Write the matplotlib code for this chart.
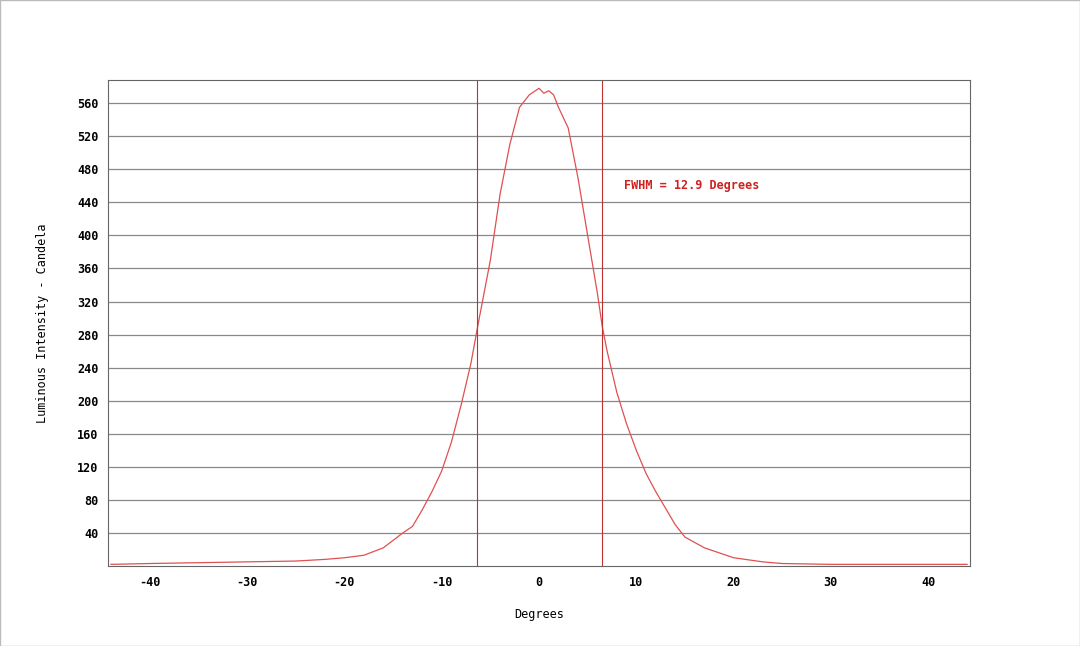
import numpy as np
import matplotlib.pyplot as plt

degrees = [-44, -40, -35, -30, -25, -22, -20, -18, -16, -14, -13, -12, -11, -10, -9, -8, -7, -6.3, -5, -4, -3,
           -2, -1, 0, 0.5, 1, 1.5, 2, 3, 4, 5, 6, 6.5, 7, 8, 9, 10, 11, 12, 13, 14, 15, 17, 20, 23, 25, 30, 40, 44]
intensity = [2, 3, 4, 5, 6, 8, 10, 13, 22, 40, 48, 68, 90, 115, 150, 195, 245, 290, 370, 450, 510,
             555, 570, 578, 572, 575, 570, 555, 530, 470, 400, 330, 290, 260, 210, 172, 140, 112, 90, 70, 50, 35, 22, 10, 5, 3, 2, 2, 2]
fwhm_left = -6.4
fwhm_right = 6.5
yticks = list(range(40, 561, 40))
xticks = list(range(-40, 41, 10))

plt.rcParams["font.family"] = "DejaVu Sans Mono"
plt.rcParams["font.weight"] = "bold"
plt.rcParams["axes.unicode_minus"] = False
fig = plt.figure(figsize=(10.8, 6.46), dpi=100)
ax = fig.add_axes([108 / 1080, 80 / 646, 862 / 1080, 486 / 646])

ax.plot(degrees, intensity, color="#e05050", lw=0.9)
ax.axvline(fwhm_left, color="#c03030", lw=0.8)
ax.axvline(fwhm_right, color="#c03030", lw=0.8)
ax.text(8.7, 460, "FWHM = 12.9 Degrees", color="#d02020", fontsize=8.5, va="center")

ax.set_xlim(-44.3, 44.3)
ax.set_ylim(0, 588)
ax.set_xticks(xticks)
ax.set_yticks(yticks)
ax.tick_params(labelsize=8.5, length=0, pad=7)
ax.grid(axis="y", color="#888888", lw=0.9)
for s in ax.spines.values():
    s.set_color("#666666")
ax.set_xlabel("Degrees", fontsize=8.5, labelpad=14)
ax.set_ylabel("Luminous Intensity - Candela", fontsize=8.5, labelpad=20)

fig.patches.append(plt.Rectangle((0, 0), 1, 1, transform=fig.transFigure,
                                 fill=False, edgecolor="#bbbbbb", lw=1))
fig.savefig("out.png", dpi=100)
